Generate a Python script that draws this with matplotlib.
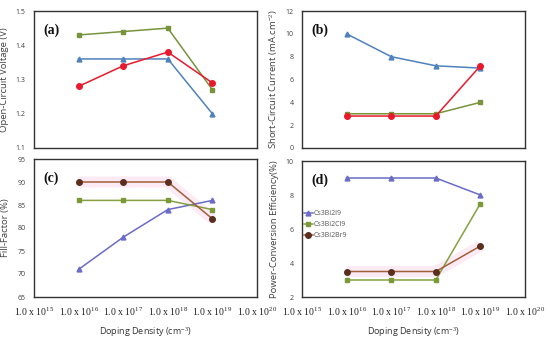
import matplotlib
matplotlib.use("Agg")
import matplotlib.pyplot as plt

plt.rcParams['font.family'] = ['Open Sans', 'DejaVu Sans']
plt.rcParams['mathtext.fontset'] = 'custom'
plt.rcParams['mathtext.rm'] = 'Liberation Serif'
plt.rcParams['mathtext.it'] = 'Liberation Serif:italic'
plt.rcParams['mathtext.bf'] = 'Liberation Serif:bold'

# x positions: doping exponents 16..19 on a 15..20 axis
x_exp = [16, 17, 18, 19]
tick_exp = [15, 16, 17, 18, 19, 20]

# (a) Open-circuit voltage (V)
voc_i = [1.36, 1.36, 1.36, 1.20]
voc_cl = [1.43, 1.44, 1.45, 1.27]
voc_br = [1.28, 1.34, 1.38, 1.29]
# (b) Short-circuit current (mA.cm^-2)
jsc_i = [10.0, 8.0, 7.2, 7.0]
jsc_cl = [3.0, 3.0, 3.0, 4.0]
jsc_br = [2.8, 2.8, 2.8, 7.2]
# (c) Fill factor (%)
ff_i = [71, 78, 84, 86]
ff_cl = [86, 86, 86, 84]
ff_br = [90, 90, 90, 82]
# (d) PCE (%)
pce_i = [9.0, 9.0, 9.0, 8.0]
pce_cl = [3.0, 3.0, 3.0, 7.5]
pce_br = [3.5, 3.5, 3.5, 5.0]

labels = ['Cs3Bi2I9', 'Cs3Bi2Cl9', 'Cs3Bi2Br9']

blue1 = '#4F81BD'
green1 = '#77933C'
red1 = '#E8192C'
blue2 = '#6A6CC8'
green2 = '#84A040'
brown2 = '#A0603A'
brown2m = '#5C2E1E'

fig = plt.figure(figsize=(5.5, 3.4), dpi=100)
W, H = 550, 340

def add_ax(l, t, r, b):
    return fig.add_axes([l / W, 1 - b / H, (r - l) / W, (b - t) / H])

ax_a = add_ax(34, 11, 257, 148)
ax_b = add_ax(302, 11, 525, 148)
ax_c = add_ax(34, 159, 257, 297)
ax_d = add_ax(302, 161, 525, 297)

tick_col = '#404040'
for ax in [ax_a, ax_b, ax_c, ax_d]:
    ax.set_xlim(15, 20)
    for s in ax.spines.values():
        s.set_color('#333333')
        s.set_linewidth(1.0)
    ax.tick_params(length=0, labelsize=5, colors=tick_col, pad=6)
    ax.set_xticks(tick_exp)

for ax in [ax_a, ax_b]:
    ax.set_xticklabels([])

for ax in [ax_c, ax_d]:
    ax.set_xticklabels([r'$\mathrm{1.0\ x\ 10}^{%d}$' % e for e in tick_exp],
                       fontsize=7, color='#222222')
    ax.tick_params(axis='x', pad=7)
    ax.set_xlabel('Doping Density (cm$^{-3}$)', fontsize=6.5, color='#333333', labelpad=4)

lw = 1.1
ms = 3.5

# (a)
ax_a.plot(x_exp, voc_i, color=blue1, marker='^', ms=ms, lw=lw)
ax_a.plot(x_exp, voc_cl, color=green1, marker='s', ms=ms, lw=lw)
ax_a.plot(x_exp, voc_br, color=red1, marker='o', ms=ms + 0.5, lw=lw)
ax_a.set_ylim(1.1, 1.5)
ax_a.set_yticks([1.1, 1.2, 1.3, 1.4, 1.5])
ax_a.set_ylabel('Open-Circuit Voltage (V)', fontsize=6.8, color='#404040', labelpad=5)

# (b)
ax_b.plot(x_exp, jsc_i, color=blue1, marker='^', ms=ms, lw=lw)
ax_b.plot(x_exp, jsc_cl, color=green1, marker='s', ms=ms, lw=lw)
ax_b.plot(x_exp, jsc_br, color=red1, marker='o', ms=ms + 0.5, lw=lw)
ax_b.set_ylim(0, 12)
ax_b.set_yticks(range(0, 13, 2))
ax_b.set_ylabel('Short-Circuit Current (mA.cm$^{-2}$)', fontsize=6.8, color='#404040', labelpad=5)

# (c)
ax_c.plot(x_exp, ff_br, color='#FCEBF5', lw=8, solid_capstyle='butt', zorder=1)
ax_c.plot(x_exp, ff_i, color=blue2, marker='^', ms=ms, lw=lw, zorder=3)
ax_c.plot(x_exp, ff_cl, color=green2, marker='s', ms=ms, lw=lw, mfc='#7A9A3A', mec='#7A9A3A', zorder=3)
ax_c.plot(x_exp, ff_br, color=brown2, marker='o', ms=ms + 0.5, lw=lw, mfc=brown2m, mec=brown2m, zorder=3)
ax_c.set_ylim(65, 95)
ax_c.set_yticks(range(65, 96, 5))
ax_c.set_ylabel('Fill-Factor (%)', fontsize=6.8, color='#404040', labelpad=5)

# (d)
ax_d.plot(x_exp, pce_br, color='#FCEBF5', lw=8, solid_capstyle='butt', zorder=1)
l1, = ax_d.plot(x_exp, pce_i, color=blue2, marker='^', ms=ms, lw=lw, zorder=3)
l2, = ax_d.plot(x_exp, pce_cl, color=green2, marker='s', ms=ms, lw=lw, mfc='#7A9A3A', mec='#7A9A3A', zorder=3)
l3, = ax_d.plot(x_exp, pce_br, color=brown2, marker='o', ms=ms + 0.5, lw=lw, mfc=brown2m, mec=brown2m, zorder=3)
ax_d.set_ylim(2, 10)
ax_d.set_yticks(range(2, 11, 2))
ax_d.set_ylabel('Power-Conversion Efficiency(%)', fontsize=6.8, color='#404040', labelpad=5)
ax_d.legend([l1, l2, l3], labels, loc='upper left', bbox_to_anchor=(-0.005, 0.66),
            frameon=False, fontsize=5, handlelength=1.3, handletextpad=0.2,
            labelspacing=0.6, borderaxespad=0, labelcolor='#555555')

for ax, t in zip([ax_a, ax_b, ax_c, ax_d], ['(a)', '(b)', '(c)', '(d)']):
    ax.text(0.04, 0.91, t, transform=ax.transAxes, fontsize=10, fontweight='bold',
            family='Liberation Serif', va='top', ha='left', color='#111111')

fig.savefig('out.png', dpi=100)
